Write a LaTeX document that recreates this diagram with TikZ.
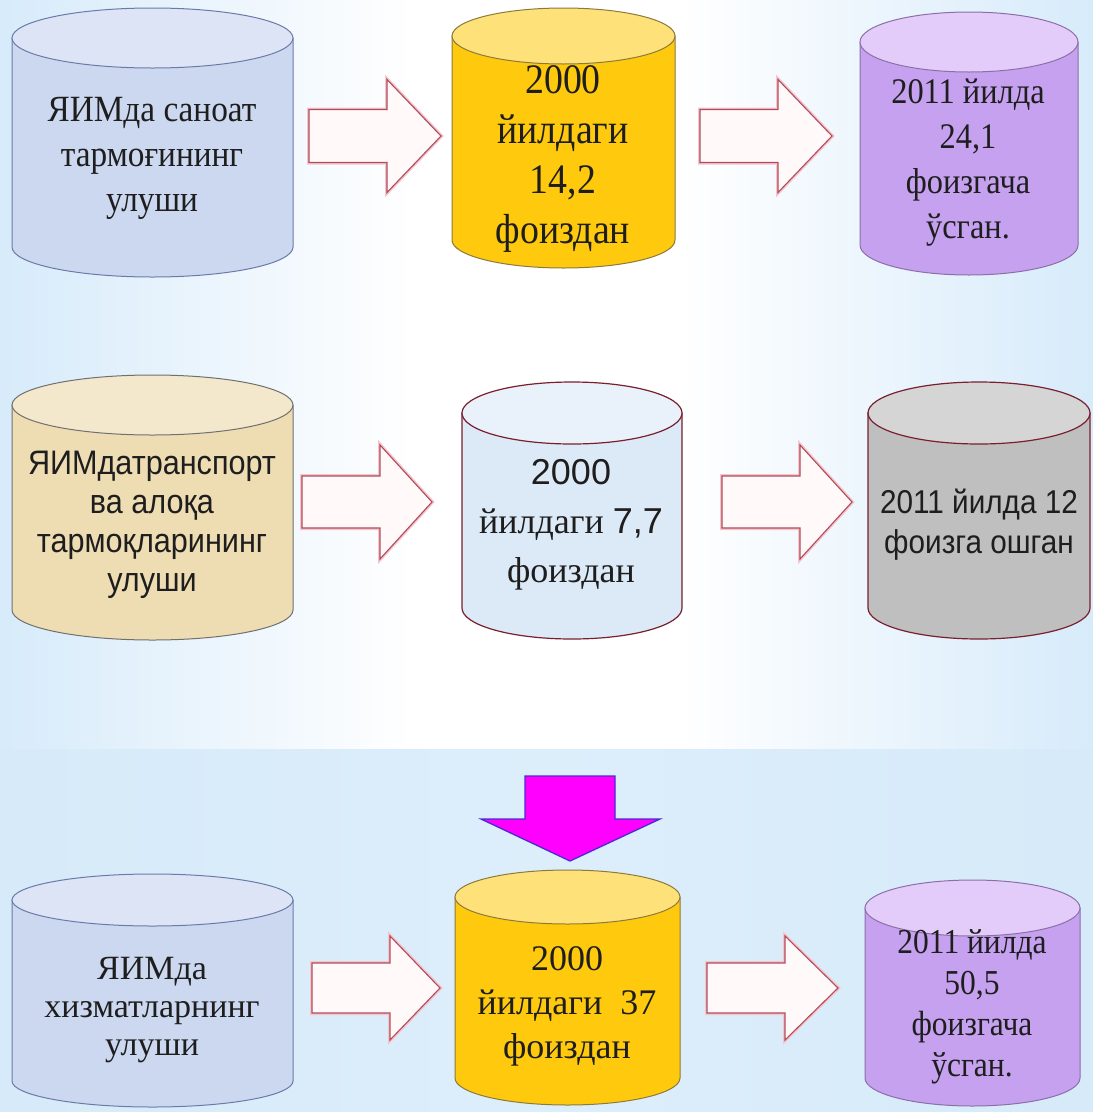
\documentclass[tikz,border=0pt]{standalone}
\usepackage{fontspec}
\setmainfont{Liberation Serif}
\newfontfamily\tnr{Liberation Serif}
\newfontfamily\tnrc[FakeStretch=0.9]{Liberation Serif}
\newfontfamily\ari{Liberation Sans}
\newfontfamily\aric[FakeStretch=0.9]{Liberation Sans}
\definecolor{bgL}{HTML}{A6D1F3}
\definecolor{bgM}{HTML}{DDEEFB}
\definecolor{bgB}{HTML}{D6EAF9}
\definecolor{txt}{HTML}{1E1E1E}
\definecolor{blueBody}{HTML}{CCD8F0}
\definecolor{blueTop}{HTML}{DCE4F5}
\definecolor{blueLine}{HTML}{6A7BA8}
\definecolor{sandBody}{HTML}{EEDCB3}
\definecolor{sandTop}{HTML}{F4E8CC}
\definecolor{sandLine}{HTML}{707070}
\definecolor{goldBody}{HTML}{FFC90E}
\definecolor{goldTop}{HTML}{FFE17A}
\definecolor{goldLine}{HTML}{8C7A3A}
\definecolor{lilaBody}{HTML}{C5A1EF}
\definecolor{lilaTop}{HTML}{E3CCF9}
\definecolor{lilaLine}{HTML}{8C6FA8}
\definecolor{iceBody}{HTML}{DCEAF7}
\definecolor{iceTop}{HTML}{E9F1FA}
\definecolor{wineLine}{HTML}{7A1F2E}
\definecolor{grayBody}{HTML}{BFBFBF}
\definecolor{grayTop}{HTML}{D5D5D5}
\definecolor{arrLine}{HTML}{B24A5A}
\definecolor{arrHalo}{HTML}{F3C6CE}
\definecolor{arrFill}{HTML}{FFF9F9}
\definecolor{magFill}{HTML}{FF00FF}
\definecolor{magLine}{HTML}{4B2BD0}
\pgfdeclarehorizontalshading{topbg}{100bp}{color(0bp)=(bgL); color(28bp)=(bgM); color(44bp)=(white); color(56bp)=(white); color(72bp)=(bgM); color(100bp)=(bgL)}
\pgfdeclarehorizontalshading{botbg}{100bp}{color(0bp)=(bgL); color(25bp)=(bgB); color(50bp)=(bgM); color(75bp)=(bgB); color(100bp)=(bgL)}
\newcommand\drawcyl[7]{%
  \pgfmathsetmacro\cxm{(#1+#2)/2}%
  \pgfmathsetmacro\rxm{(#2-#1)/2}%
  \pgfmathsetmacro\kx{0.5523*\rxm}%
  \pgfmathsetmacro\ky{0.5523*#5}%
  \path[#6] (#1,#3) -- (#1,#4) .. controls (#1,#4+\ky) and (\cxm-\kx,#4+#5) .. (\cxm,#4+#5) .. controls (\cxm+\kx,#4+#5) and (#2,#4+\ky) .. (#2,#4) -- (#2,#3) -- cycle;
  \path[#7] (\cxm,#3) ellipse [x radius=\rxm, y radius=#5];
}
\newcommand\blockarrow[6]{%
  \path[blkhalo] (#1,#4-#5) -- (#2,#4-#5) -- (#2,#4-#6) -- (#3,#4) -- (#2,#4+#6) -- (#2,#4+#5) -- (#1,#4+#5) -- cycle;
  \path[blkarrow] (#1,#4-#5) -- (#2,#4-#5) -- (#2,#4-#6) -- (#3,#4) -- (#2,#4+#6) -- (#2,#4+#5) -- (#1,#4+#5) -- cycle;
}
\tikzset{
  blkhalo/.style={draw=arrHalo, line width=4pt, line join=miter},
  blkarrow/.style={fill=arrFill, draw=arrLine, line width=1.1pt, line join=miter},
  bluebody/.style={fill=blueBody, draw=blueLine, line width=1pt},
  bluetop/.style={fill=blueTop, draw=blueLine, line width=1pt},
  sandbody/.style={fill=sandBody, draw=sandLine, line width=1pt},
  sandtop/.style={fill=sandTop, draw=sandLine, line width=1pt},
  goldbody/.style={fill=goldBody, draw=goldLine, line width=1pt},
  goldtop/.style={fill=goldTop, draw=goldLine, line width=1pt},
  lilabody/.style={fill=lilaBody, draw=lilaLine, line width=1pt},
  lilatop/.style={fill=lilaTop, draw=lilaLine, line width=1pt},
  icebody/.style={fill=iceBody, draw=wineLine, line width=1.2pt},
  icetop/.style={fill=iceTop, draw=wineLine, line width=1.2pt},
  graybody/.style={fill=grayBody, draw=wineLine, line width=1.2pt},
  graytop/.style={fill=grayTop, draw=wineLine, line width=1.2pt},
  label/.style={text=txt, align=center, inner sep=0pt},
}
\begin{document}
\begin{tikzpicture}[x=1pt,y=-1pt]
\useasboundingbox (0,0) rectangle (1093,1112);
% background
\shade[shading=topbg] (0,0) rectangle (1093,749);
\shade[shading=botbg] (0,749) rectangle (1093,1112);

% ---------- row 1 ----------
\drawcyl{12}{293}{38}{247}{30}{bluebody}{bluetop}
\drawcyl{452}{675}{36}{240}{28}{goldbody}{goldtop}
\drawcyl{860}{1078}{42}{245}{30}{lilabody}{lilatop}
\blockarrow{309}{387}{441}{136}{26.5}{56.5}
\blockarrow{700}{778}{832}{136}{26.5}{56.5}
\coordinate (r1a) at (375,136);
\coordinate (r1b) at (766,136);
\node[label, font=\tnrc\fontsize{37}{45}\selectfont] (a1) at (152,158) {ЯИМда саноат\\тармоғининг\\улуши};
\node[label, font=\tnrc\fontsize{42}{50}\selectfont] (b1) at (563,159) {2000\\йилдаги\\14,2\\фоиздан};
\node[label, font=\tnrc\fontsize{36}{45}\selectfont] (c1) at (968,163) {2011 йилда\\24,1\\фоизгача\\ўсган.};

% ---------- row 2 ----------
\drawcyl{12}{293}{405}{610}{30}{sandbody}{sandtop}
\drawcyl{462}{682}{413}{608}{31}{icebody}{icetop}
\drawcyl{868}{1090}{413}{608}{31}{graybody}{graytop}
\blockarrow{302}{380}{432}{502}{26}{57}
\blockarrow{722}{800}{852}{502}{26}{57}
\coordinate (r2a) at (367,502);
\coordinate (r2b) at (787,502);
\node[label, font=\aric\fontsize{34}{39}\selectfont] (a2) at (152,525) {ЯИМдатранспорт\\ва алоқа\\тармоқларининг\\улуши};
\node[label, font=\tnr\fontsize{36}{49}\selectfont] (b2) at (571,525) {{\ari 2000}\\йилдаги {\ari 7,7}\\фоиздан};
\node[label, font=\aric\fontsize{33}{40}\selectfont] (c2) at (979,525) {2011 йилда 12\\фоизга ошган};

% ---------- row 3 ----------
\path[fill=magFill, draw=magLine, line width=1.3pt, line join=miter] (525,776) -- (615,776) -- (615,819) -- (660,819) -- (570,861) -- (481,819) -- (525,819) -- cycle;
\coordinate (down) at (570,818);
\drawcyl{12}{293}{900}{1081}{26}{bluebody}{bluetop}
\drawcyl{455}{680}{897}{1078}{27}{goldbody}{goldtop}
\drawcyl{865}{1080}{908}{1078}{28}{lilabody}{lilatop}
\blockarrow{312}{390}{440}{988}{25}{52}
\blockarrow{707}{785}{838}{988}{25}{52}
\coordinate (r3a) at (376,988);
\coordinate (r3b) at (772,988);
\node[label, font=\tnr\fontsize{34}{38}\selectfont] (a3) at (152,1010) {ЯИМда\\хизматларнинг\\улуши};
\node[label, font=\tnr\fontsize{36}{44}\selectfont] (b3) at (567,1006) {2000\\йилдаги\ \ 37\\фоиздан};
\node[label, font=\tnrc\fontsize{35}{41}\selectfont] (c3) at (972,1007) {2011 йилда\\50,5\\фоизгача\\ўсган.};
\end{tikzpicture}
\end{document}
